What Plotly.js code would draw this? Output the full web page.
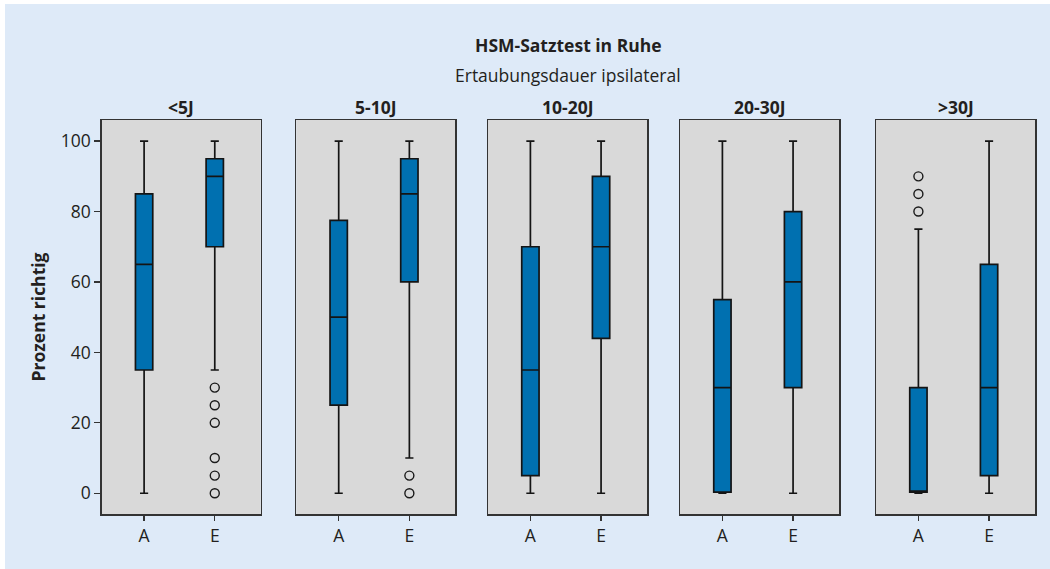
<!DOCTYPE html>
<html>
<head>
<meta charset="utf-8">
<script src="https://cdn.plot.ly/plotly-3.0.1.min.js"></script>
<style>
html,body{margin:0;padding:0;background:#ffffff;}
#chart{position:absolute;left:5px;top:4px;width:1045px;height:565px;}
</style>
</head>
<body>
<div id="chart"></div>
<script>
// ---- data ----
const groups = ['<5J', '5-10J', '10-20J', '20-30J', '>30J'];
const categories = ['A', 'E'];
const lowerFence = [[0, 35], [0, 10], [0, 0], [0, 0], [0, 0]];
const q1 = [[35, 70], [25, 60], [5, 44], [0.3, 30], [0.3, 5]];
const median = [[65, 90], [50, 85], [35, 70], [30, 60], [0.3, 30]];
const q3 = [[85, 95], [77.5, 95], [70, 90], [55, 80], [30, 65]];
const upperFence = [[100, 100], [100, 100], [100, 100], [100, 100], [75, 100]];
const outliersA = [[], [], [], [], [90, 85, 80]];
const outliersE = [[30, 25, 20, 10, 5, 0], [5, 0], [], [], []];
const yTicks = [0, 20, 40, 60, 80, 100];
const title = 'HSM-Satztest in Ruhe';
const subtitle = 'Ertaubungsdauer ipsilateral';
const yTitle = 'Prozent richtig';

// ---- geometry (div coordinates) ----
const W = 1045, H = 565;
const panelLeft = [96.7, 291.3, 483, 675, 871];
const panelWidth = 159;
const plotTop = 116, plotBottom = 510;
const textColor = '#231f20';
const font = 'Open Sans, Noto Sans, sans-serif';
const fs = 17.5;

const traces = [];
const layout = {
  width: W, height: H,
  margin: {l: 0, r: 0, t: 0, b: 0},
  paper_bgcolor: '#deeaf8',
  plot_bgcolor: '#d9d9d9',
  showlegend: false,
  font: {family: font, color: textColor, size: fs},
  annotations: [],
  hovermode: false
};

groups.forEach((g, i) => {
  const sfx = i === 0 ? '' : String(i + 1);
  const xa = 'x' + sfx, ya = 'y' + sfx;
  traces.push({
    type: 'box',
    x: categories,
    lowerfence: lowerFence[i],
    q1: q1[i],
    median: median[i],
    q3: q3[i],
    upperfence: upperFence[i],
    boxpoints: false,
    width: 0.245,
    whiskerwidth: 0.47,
    fillcolor: '#0070b0',
    line: {color: '#141414', width: 1.7},
    xaxis: xa, yaxis: ya,
    hoverinfo: 'skip'
  });
  const ox = [], oy = [];
  outliersA[i].forEach(v => { ox.push('A'); oy.push(v); });
  outliersE[i].forEach(v => { ox.push('E'); oy.push(v); });
  if (ox.length) {
    traces.push({
      type: 'scatter', mode: 'markers',
      x: ox, y: oy,
      marker: {symbol: 'circle-open', size: 9, color: '#1a1a1a', line: {width: 1.4}},
      xaxis: xa, yaxis: ya, hoverinfo: 'skip'
    });
  }
  const d0 = panelLeft[i] / W, d1 = (panelLeft[i] + panelWidth) / W;
  layout['xaxis' + sfx] = {
    domain: [d0, d1],
    anchor: ya,
    type: 'category',
    categoryorder: 'array',
    categoryarray: categories,
    range: [-0.6, 1.65],
    showgrid: false, zeroline: false,
    showline: true, mirror: true, linecolor: '#333333', linewidth: 1.5,
    ticks: 'outside', ticklen: 5, tickwidth: 1.3, tickcolor: '#333333',
    tickfont: {size: fs, color: textColor, family: font},
    fixedrange: true
  };
  layout['yaxis' + sfx] = {
    domain: [1 - plotBottom / H, 1 - plotTop / H],
    anchor: xa,
    range: [-5.9, 106],
    showgrid: false, zeroline: false,
    showline: true, mirror: true, linecolor: '#333333', linewidth: 1.5,
    tickvals: yTicks,
    ticks: i === 0 ? 'outside' : '',
    showticklabels: i === 0,
    ticklen: 6, tickwidth: 1.3, tickcolor: '#333333',
    tickfont: {size: fs, color: textColor, family: font},
    title: i === 0 ? {text: '<b>' + yTitle + '</b>', font: {size: fs, color: textColor, family: font}, standoff: 10} : {text: ''},
    fixedrange: true
  };
  layout.annotations.push({
    text: '<b>' + g + '</b>',
    xref: 'paper', yref: 'paper',
    x: (d0 + d1) / 2, y: 1 - 103 / H,
    xanchor: 'center', yanchor: 'middle',
    showarrow: false,
    font: {size: fs, color: textColor, family: font}
  });
});

const centre = (panelLeft[0] + panelLeft[4] + panelWidth) / 2 / W;
layout.annotations.push({
  text: '<b>' + title + '</b>', xref: 'paper', yref: 'paper',
  x: centre, y: 1 - 41 / H, xanchor: 'center', yanchor: 'middle',
  showarrow: false, font: {size: fs, color: textColor, family: font}
});
layout.annotations.push({
  text: subtitle, xref: 'paper', yref: 'paper',
  x: centre, y: 1 - 71 / H, xanchor: 'center', yanchor: 'middle',
  showarrow: false, font: {size: fs, color: textColor, family: font}
});

Plotly.newPlot('chart', traces, layout, {staticPlot: true, displayModeBar: false});
</script>
</body>
</html>
